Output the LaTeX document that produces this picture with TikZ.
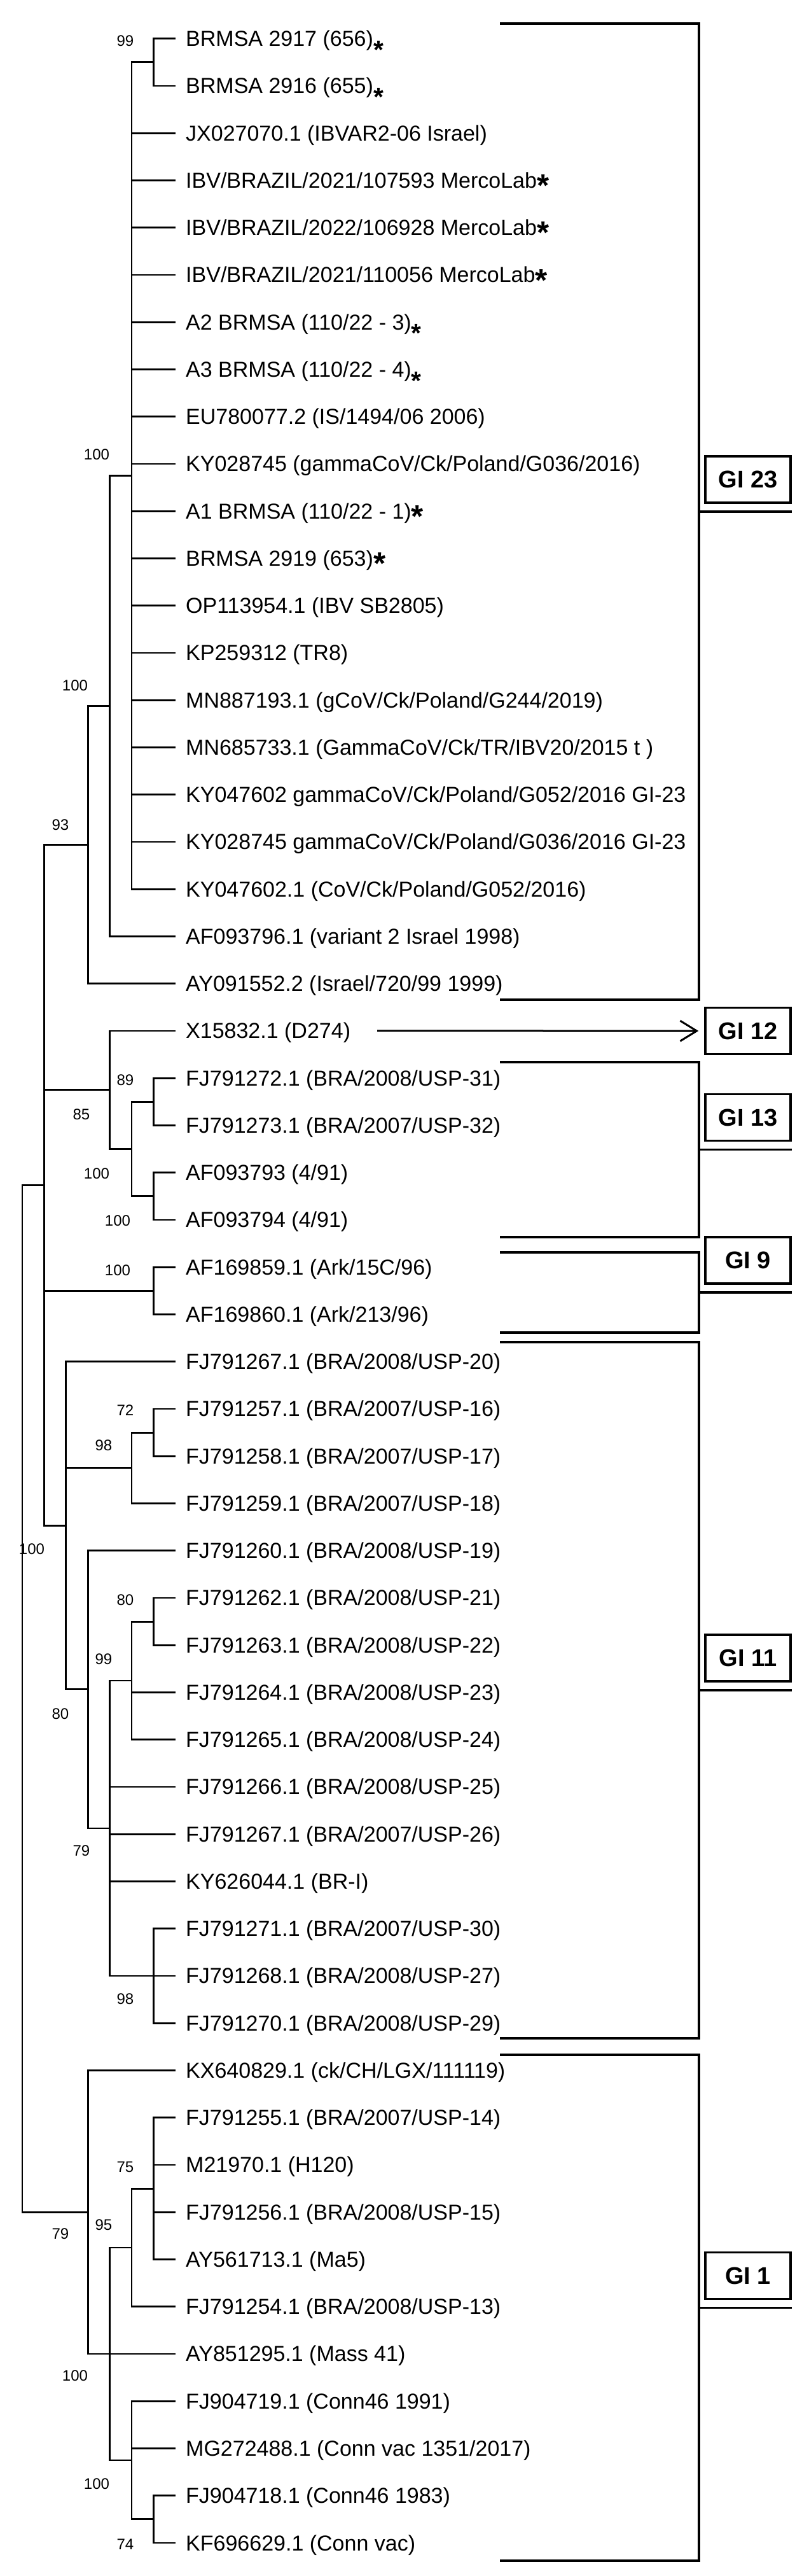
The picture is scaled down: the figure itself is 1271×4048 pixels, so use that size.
\documentclass[tikz,border=0pt]{standalone}
\usepackage{fontspec}
\setmainfont{Liberation Sans}
\newfontfamily\gifont{Liberation Sans}
\usetikzlibrary{arrows.meta}
\newcommand{\hstar}{\raisebox{-0.39em}{\scalebox{1.45}{\bfseries *}}}
\newcommand{\lstar}{\raisebox{-0.58em}{\scalebox{1.2}{\bfseries *}}}

\begin{document}
\begin{tikzpicture}[x=0.5pt, y=-0.5pt,
    leaf/.style={anchor=west, inner xsep=8pt, inner ysep=0pt, text height=12pt, text depth=0pt, font=\fontsize{17}{20}\selectfont},
    boot/.style={inner sep=0pt, font=\fontsize{12}{14}\selectfont},
    gibox/.style={draw, line width=1.7pt, minimum width=67pt, minimum height=36.5pt, inner sep=0pt, font=\gifont\bfseries\fontsize{19}{22}\selectfont},
    branch/.style={line width=1.4pt},
    bracket/.style={line width=1.6pt},
    pointer/.style={line width=1.5pt, -{Straight Barb[length=13pt, width=16pt]}}]
    \useasboundingbox (0,0) rectangle (1271,4048);

    % Leaves
    \node[leaf] (l1) at (275.8, 60.7) {BRMSA 2917 (656)\lstar};
    \node[leaf] (l2) at (275.8, 134.95) {BRMSA 2916 (655)\lstar};
    \node[leaf] (l3) at (275.8, 209.2) {JX027070.1 (IBVAR2-06 Israel)};
    \node[leaf] (l4) at (275.8, 283.45) {IBV/BRAZIL/2021/107593 MercoLab\hstar};
    \node[leaf] (l5) at (275.8, 357.7) {IBV/BRAZIL/2022/106928 MercoLab\hstar};
    \node[leaf] (l6) at (275.8, 431.95) {IBV/BRAZIL/2021/110056 MercoLab\hstar};
    \node[leaf] (l7) at (275.8, 506.2) {A2 BRMSA (110/22 - 3)\lstar};
    \node[leaf] (l8) at (275.8, 580.45) {A3 BRMSA (110/22 - 4)\lstar};
    \node[leaf] (l9) at (275.8, 654.7) {EU780077.2 (IS/1494/06 2006)};
    \node[leaf] (l10) at (275.8, 728.95) {KY028745 (gammaCoV/Ck/Poland/G036/2016)};
    \node[leaf] (l11) at (275.8, 803.2) {A1 BRMSA (110/22 - 1)\hstar};
    \node[leaf] (l12) at (275.8, 877.45) {BRMSA 2919 (653)\hstar};
    \node[leaf] (l13) at (275.8, 951.7) {OP113954.1 (IBV SB2805)};
    \node[leaf] (l14) at (275.8, 1025.95) {KP259312 (TR8)};
    \node[leaf] (l15) at (275.8, 1100.2) {MN887193.1 (gCoV/Ck/Poland/G244/2019)};
    \node[leaf] (l16) at (275.8, 1174.45) {MN685733.1 (GammaCoV/Ck/TR/IBV20/2015 t )};
    \node[leaf] (l17) at (275.8, 1248.7) {KY047602 gammaCoV/Ck/Poland/G052/2016 GI-23};
    \node[leaf] (l18) at (275.8, 1322.95) {KY028745 gammaCoV/Ck/Poland/G036/2016 GI-23};
    \node[leaf] (l19) at (275.8, 1397.2) {KY047602.1 (CoV/Ck/Poland/G052/2016)};
    \node[leaf] (l20) at (275.8, 1471.45) {AF093796.1 (variant 2 Israel 1998)};
    \node[leaf] (l21) at (275.8, 1545.7) {AY091552.2 (Israel/720/99 1999)};
    \node[leaf] (l22) at (275.8, 1619.95) {X15832.1 (D274)};
    \node[leaf] (l23) at (275.8, 1694.2) {FJ791272.1 (BRA/2008/USP-31)};
    \node[leaf] (l24) at (275.8, 1768.45) {FJ791273.1 (BRA/2007/USP-32)};
    \node[leaf] (l25) at (275.8, 1842.7) {AF093793 (4/91)};
    \node[leaf] (l26) at (275.8, 1916.95) {AF093794 (4/91)};
    \node[leaf] (l27) at (275.8, 1991.2) {AF169859.1 (Ark/15C/96)};
    \node[leaf] (l28) at (275.8, 2065.45) {AF169860.1 (Ark/213/96)};
    \node[leaf] (l29) at (275.8, 2139.7) {FJ791267.1 (BRA/2008/USP-20)};
    \node[leaf] (l30) at (275.8, 2213.95) {FJ791257.1 (BRA/2007/USP-16)};
    \node[leaf] (l31) at (275.8, 2288.2) {FJ791258.1 (BRA/2007/USP-17)};
    \node[leaf] (l32) at (275.8, 2362.45) {FJ791259.1 (BRA/2007/USP-18)};
    \node[leaf] (l33) at (275.8, 2436.7) {FJ791260.1 (BRA/2008/USP-19)};
    \node[leaf] (l34) at (275.8, 2510.95) {FJ791262.1 (BRA/2008/USP-21)};
    \node[leaf] (l35) at (275.8, 2585.2) {FJ791263.1 (BRA/2008/USP-22)};
    \node[leaf] (l36) at (275.8, 2659.45) {FJ791264.1 (BRA/2008/USP-23)};
    \node[leaf] (l37) at (275.8, 2733.7) {FJ791265.1 (BRA/2008/USP-24)};
    \node[leaf] (l38) at (275.8, 2807.95) {FJ791266.1 (BRA/2008/USP-25)};
    \node[leaf] (l39) at (275.8, 2882.2) {FJ791267.1 (BRA/2007/USP-26)};
    \node[leaf] (l40) at (275.8, 2956.45) {KY626044.1 (BR-I)};
    \node[leaf] (l41) at (275.8, 3030.7) {FJ791271.1 (BRA/2007/USP-30)};
    \node[leaf] (l42) at (275.8, 3104.95) {FJ791268.1 (BRA/2008/USP-27)};
    \node[leaf] (l43) at (275.8, 3179.2) {FJ791270.1 (BRA/2008/USP-29)};
    \node[leaf] (l44) at (275.8, 3253.45) {KX640829.1 (ck/CH/LGX/111119)};
    \node[leaf] (l45) at (275.8, 3327.7) {FJ791255.1 (BRA/2007/USP-14)};
    \node[leaf] (l46) at (275.8, 3401.95) {M21970.1 (H120)};
    \node[leaf] (l47) at (275.8, 3476.2) {FJ791256.1 (BRA/2008/USP-15)};
    \node[leaf] (l48) at (275.8, 3550.45) {AY561713.1 (Ma5)};
    \node[leaf] (l49) at (275.8, 3624.7) {FJ791254.1 (BRA/2008/USP-13)};
    \node[leaf] (l50) at (275.8, 3698.95) {AY851295.1 (Mass 41)};
    \node[leaf] (l51) at (275.8, 3773.2) {FJ904719.1 (Conn46 1991)};
    \node[leaf] (l52) at (275.8, 3847.45) {MG272488.1 (Conn vac 1351/2017)};
    \node[leaf] (l53) at (275.8, 3921.7) {FJ904718.1 (Conn46 1983)};
    \node[leaf] (l54) at (275.8, 3995.95) {KF696629.1 (Conn vac)};

    % Inner nodes of the tree
    \coordinate (rt) at (35, 2669.4);
    \coordinate (c1) at (69.4, 1862.5);
    \coordinate (k1) at (103.8, 2397.3);
    \coordinate (b1) at (138.2, 1327.6);
    \coordinate (m1) at (138.2, 2654.8);
    \coordinate (u1) at (138.2, 3476.2);
    \coordinate (a1) at (172.6, 1109.5);
    \coordinate (d1) at (172.6, 1712.8);
    \coordinate (p1) at (172.6, 2872.9);
    \coordinate (v1) at (172.6, 3699);
    \coordinate (g1) at (207, 747.5);
    \coordinate (e1) at (207, 1805.6);
    \coordinate (lq) at (207, 2306.8);
    \coordinate (q1) at (207, 2640.9);
    \coordinate (y1) at (207, 3531.9);
    \coordinate (z1) at (207, 3866);
    \coordinate (n99) at (241.4, 97.8);
    \coordinate (f1) at (241.4, 1731.3);
    \coordinate (h1) at (241.4, 1879.8);
    \coordinate (i9) at (241.4, 2028.3);
    \coordinate (n1) at (241.4, 2251.1);
    \coordinate (s1) at (241.4, 2548.1);
    \coordinate (t1) at (241.4, 3104.95);
    \coordinate (x1) at (241.4, 3439.1);
    \coordinate (aa) at (241.4, 3958.8);

    % Branches
    \draw[branch] (rt) |- (c1) (rt) |- (u1);
    \draw[branch] (c1) |- (b1) (c1) |- (d1) (c1) |- (i9) (c1) |- (k1);
    \draw[branch] (b1) |- (a1) (b1) |- (l21.west);
    \draw[branch] (a1) |- (g1) (a1) |- (l20.west);
    \draw[branch] (g1) |- (n99) (g1) |- (l3.west) (g1) |- (l4.west) (g1) |- (l5.west) (g1) |- (l6.west)
        (g1) |- (l7.west) (g1) |- (l8.west) (g1) |- (l9.west) (g1) |- (l10.west) (g1) |- (l11.west)
        (g1) |- (l12.west) (g1) |- (l13.west) (g1) |- (l14.west) (g1) |- (l15.west) (g1) |- (l16.west)
        (g1) |- (l17.west) (g1) |- (l18.west) (g1) |- (l19.west);
    \draw[branch] (n99) |- (l1.west) (n99) |- (l2.west);
    \draw[branch] (d1) |- (l22.west) (d1) |- (e1);
    \draw[branch] (e1) |- (f1) (e1) |- (h1);
    \draw[branch] (f1) |- (l23.west) (f1) |- (l24.west);
    \draw[branch] (h1) |- (l25.west) (h1) |- (l26.west);
    \draw[branch] (i9) |- (l27.west) (i9) |- (l28.west);
    \draw[branch] (k1) |- (l29.west) (k1) |- (lq) (k1) |- (m1);
    \draw[branch] (lq) |- (n1) (lq) |- (l32.west);
    \draw[branch] (n1) |- (l30.west) (n1) |- (l31.west);
    \draw[branch] (m1) |- (l33.west) (m1) |- (p1);
    \draw[branch] (p1) |- (q1) (p1) |- (l38.west) (p1) |- (l39.west) (p1) |- (l40.west) (p1) |- (t1);
    \draw[branch] (q1) |- (s1) (q1) |- (l36.west) (q1) |- (l37.west);
    \draw[branch] (s1) |- (l34.west) (s1) |- (l35.west);
    \draw[branch] (t1) |- (l41.west) (t1) |- (l42.west) (t1) |- (l43.west);
    \draw[branch] (u1) |- (l44.west) (u1) |- (v1);
    \draw[branch] (v1) |- (y1) (v1) |- (l50.west) (v1) |- (z1);
    \draw[branch] (y1) |- (x1) (y1) |- (l49.west);
    \draw[branch] (x1) |- (l45.west) (x1) |- (l46.west) (x1) |- (l47.west) (x1) |- (l48.west);
    \draw[branch] (z1) |- (l51.west) (z1) |- (l52.west) (z1) |- (aa);
    \draw[branch] (aa) |- (l53.west) (aa) |- (l54.west);

    % Bootstrap values
    \node[boot] (bs1) at (197, 64) {99};
    \node[boot] (bs2) at (152, 714) {100};
    \node[boot] (bs3) at (118, 1077) {100};
    \node[boot] (bs4) at (95, 1296) {93};
    \node[boot] (bs5) at (197, 1697) {89};
    \node[boot] (bs6) at (128, 1751) {85};
    \node[boot] (bs7) at (152, 1844) {100};
    \node[boot] (bs8) at (185, 1918.5) {100};
    \node[boot] (bs9) at (185, 1996) {100};
    \node[boot] (bs10) at (197, 2216) {72};
    \node[boot] (bs11) at (163, 2271) {98};
    \node[boot] (bs12) at (50, 2434) {100};
    \node[boot] (bs13) at (197, 2514) {80};
    \node[boot] (bs14) at (163, 2607) {99};
    \node[boot] (bs15) at (95, 2693) {80};
    \node[boot] (bs16) at (128, 2908) {79};
    \node[boot] (bs17) at (197, 3141) {98};
    \node[boot] (bs18) at (197, 3405) {75};
    \node[boot] (bs19) at (163, 3496) {95};
    \node[boot] (bs20) at (95, 3510) {79};
    \node[boot] (bs21) at (118, 3733) {100};
    \node[boot] (bs22) at (152, 3903.5) {100};
    \node[boot] (bs23) at (197, 3998) {74};

    % Genotype boxes
    \node[gibox] (gi23) at (1176, 753.5) {GI 23};
    \node[gibox] (gi12) at (1176, 1620) {GI 12};
    \node[gibox] (gi13) at (1176, 1756) {GI 13};
    \node[gibox] (gi9) at (1176, 1980.5) {GI 9};
    \node[gibox] (gi11) at (1176, 2605.5) {GI 11};
    \node[gibox] (gi1) at (1176, 3576) {GI 1};

    % Brackets
    \coordinate (k23t) at (786, 37);
    \coordinate (k23m) at (1099, 804);
    \coordinate (k23b) at (786, 1571);
    \draw[bracket] (k23t) -| (k23m) |- (k23b);
    \draw[bracket] (k23m) -- (k23m -| gi23.east);

    \coordinate (k13t) at (786, 1669);
    \coordinate (k13m) at (1099, 1806.5);
    \coordinate (k13b) at (786, 1944);
    \draw[bracket] (k13t) -| (k13m) |- (k13b);
    \draw[bracket] (k13m) -- (k13m -| gi13.east);

    \coordinate (k9t) at (786, 1968);
    \coordinate (k9m) at (1099, 2031);
    \coordinate (k9b) at (786, 2094);
    \draw[bracket] (k9t) -| (k9m) |- (k9b);
    \draw[bracket] (k9m) -- (k9m -| gi9.east);

    \coordinate (k11t) at (786, 2109);
    \coordinate (k11m) at (1099, 2656);
    \coordinate (k11b) at (786, 3203);
    \draw[bracket] (k11t) -| (k11m) |- (k11b);
    \draw[bracket] (k11m) -- (k11m -| gi11.east);

    \coordinate (k1t) at (786, 3229);
    \coordinate (k1m) at (1099, 3626.5);
    \coordinate (k1b) at (786, 4024);
    \draw[bracket] (k1t) -| (k1m) |- (k1b);
    \draw[bracket] (k1m) -- (k1m -| gi1.east);

    % D274 points to GI 12
    \draw[pointer, shorten <=12.8pt, shorten >=4.5pt] (l22.east) -- (gi12.west);
\end{tikzpicture}
\end{document}
